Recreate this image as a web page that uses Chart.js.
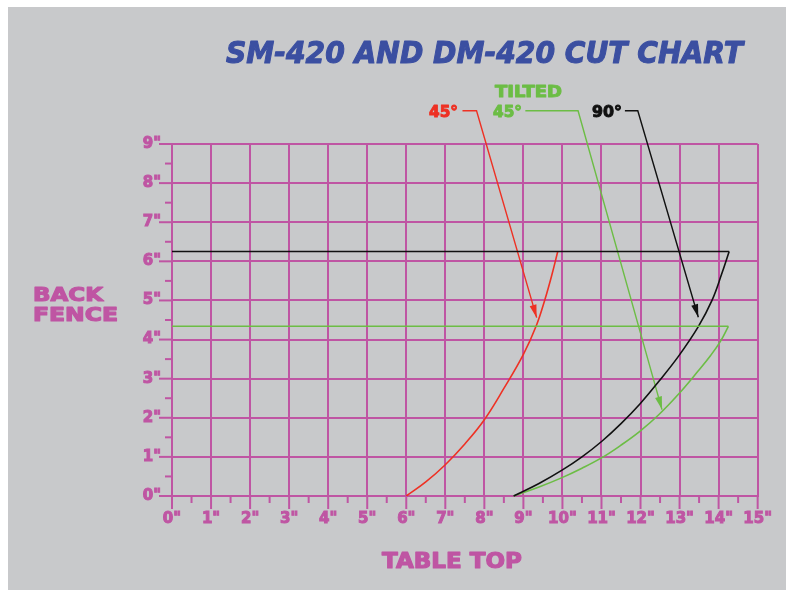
<!DOCTYPE html>
<html>
<head>
<meta charset="utf-8">
<script src="https://cdn.jsdelivr.net/npm/chart.js@4.4.1/dist/chart.umd.min.js"></script>
<style>
  html, body { margin: 0; padding: 0; background: #fff; }
  #wrap { width: 786px; height: 590px; }
</style>
</head>
<body>
<div id="wrap"><canvas id="cutChart" width="786" height="590"></canvas></div>
<script>
// valores (pulgadas)
const red45X = [6, 6.5, 7, 7.5, 8, 8.5, 9.0, 9.34, 9.55, 9.72, 9.88];
const red45Y = [0, 0.36, 0.8, 1.33, 1.95, 2.75, 3.62, 4.38, 5.02, 5.62, 6.25];

const black90X = [8.75, 9.4, 9.99, 10.5, 11.01, 11.5, 11.99, 12.46, 12.97, 13.48, 13.83, 14.08, 14.27];
const black90Y = [0, 0.32, 0.66, 1.0, 1.4, 1.85, 2.36, 2.92, 3.57, 4.33, 5.0, 5.68, 6.25];

const tilted45X = [8.75, 9.4, 9.99, 10.5, 11.01, 11.5, 11.99, 12.46, 12.97, 13.48, 13.8, 14.05, 14.25];
const tilted45Y = [0, 0.23, 0.47, 0.71, 0.98, 1.3, 1.66, 2.07, 2.6, 3.2, 3.6, 3.96, 4.34];

const blackFenceX = [0, 14.27];
const blackFenceY = [6.25, 6.25];
const greenFenceX = [0, 14.25];
const greenFenceY = [4.34, 4.34];

// líneas de las etiquetas (flechas)
const redLeaderX = [7.44, 7.8, 9.34];
const redLeaderY = [9.85, 9.85, 4.56];
const greenLeaderX = [9.05, 10.4, 12.55];
const greenLeaderY = [9.85, 9.85, 2.21];
const blackLeaderX = [11.6, 11.93, 13.48];
const blackLeaderY = [9.85, 9.85, 4.57];

const xMax = 15;
const yMax = 9;

const MAGENTA = '#bf55a3';
const GRAY = '#c8c9cb';
const RED = '#ee3124';
const GREEN = '#6cbd45';
const BLACK = '#111111';
const BLUE = '#3b4fa1';

function pts(xs, ys) {
  return xs.map((x, i) => ({ x: x, y: ys[i] }));
}

function serie(xs, ys, color, extra) {
  return Object.assign({
    data: pts(xs, ys),
    showLine: true,
    borderColor: color,
    borderWidth: 1.6,
    pointRadius: 0,
    fill: false,
    clip: false,
    tension: 0
  }, extra || {});
}

// texto estirado al ancho del original
function fitText(ctx, txt, x, y, font, color, width, stroke) {
  ctx.save();
  ctx.font = font;
  ctx.fillStyle = color;
  ctx.strokeStyle = color;
  ctx.lineWidth = stroke || 1;
  ctx.lineJoin = 'round';
  ctx.textBaseline = 'alphabetic';
  ctx.textAlign = 'left';
  const w = ctx.measureText(txt).width;
  ctx.translate(x, y);
  ctx.scale(width / w, 1);
  ctx.fillText(txt, 0, 0);
  ctx.strokeText(txt, 0, 0);
  ctx.restore();
}

const fondo = {
  id: 'fondo',
  beforeDraw(chart) {
    const ctx = chart.ctx;
    ctx.save();
    ctx.fillStyle = '#ffffff';
    ctx.fillRect(0, 0, chart.width, chart.height);
    ctx.fillStyle = GRAY;
    ctx.fillRect(8, 7, chart.width - 8, chart.height - 7);
    ctx.restore();
  }
};

const marcas = {
  id: 'marcas',
  afterDraw(chart) {
    const ctx = chart.ctx;
    const xs = chart.scales.x;
    const ys = chart.scales.y;
    const area = chart.chartArea;
    ctx.save();
    ctx.strokeStyle = MAGENTA;
    ctx.lineWidth = 2;
    xs.ticks.forEach(t => {
      const px = xs.getPixelForValue(t.value);
      const len = Number.isInteger(t.value) ? 13 : 7;
      ctx.beginPath();
      ctx.moveTo(px, area.bottom);
      ctx.lineTo(px, area.bottom + len);
      ctx.stroke();
    });
    ys.ticks.forEach(t => {
      const py = ys.getPixelForValue(t.value);
      const len = Number.isInteger(t.value) ? 13 : 7;
      ctx.beginPath();
      ctx.moveTo(area.left, py);
      ctx.lineTo(area.left - len, py);
      ctx.stroke();
    });

    // flechas al final de cada línea guía
    [[5, RED], [6, GREEN], [7, BLACK]].forEach(([idx, color]) => {
      const meta = chart.getDatasetMeta(idx);
      const n = meta.data.length;
      const a = meta.data[n - 2], b = meta.data[n - 1];
      const ang = Math.atan2(b.y - a.y, b.x - a.x);
      const L = 13, W = 3.5;
      ctx.fillStyle = color;
      ctx.beginPath();
      ctx.moveTo(b.x, b.y);
      ctx.lineTo(b.x - L * Math.cos(ang) + W * Math.sin(ang), b.y - L * Math.sin(ang) - W * Math.cos(ang));
      ctx.lineTo(b.x - L * Math.cos(ang) - W * Math.sin(ang), b.y - L * Math.sin(ang) + W * Math.cos(ang));
      ctx.closePath();
      ctx.fill();
    });

    // textos
    fitText(ctx, 'SM-420 AND DM-420 CUT CHART', 226, 63, 'italic bold 30px "DejaVu Sans"', BLUE, 517, 1.1);
    fitText(ctx, 'BACK', 33, 301, 'bold 19px "DejaVu Sans"', MAGENTA, 70, 1.2);
    fitText(ctx, 'FENCE', 33, 321, 'bold 19px "DejaVu Sans"', MAGENTA, 85, 1.2);
    fitText(ctx, 'TABLE TOP', 382, 568, 'bold 22px "DejaVu Sans"', MAGENTA, 140, 1.2);
    fitText(ctx, '45°', 429, 117, 'bold 16px "DejaVu Sans"', RED, 29, 1);
    fitText(ctx, 'TILTED', 495, 97, 'bold 16px "DejaVu Sans"', GREEN, 67, 1);
    fitText(ctx, '45°', 493, 117, 'bold 16px "DejaVu Sans"', GREEN, 29, 1);
    fitText(ctx, '90°', 592, 117, 'bold 16px "DejaVu Sans"', BLACK, 30, 1);
    ctx.restore();
  }
};

const tickFont = { family: 'DejaVu Sans', size: 15, weight: 'bold' };

new Chart(document.getElementById('cutChart'), {
  type: 'scatter',
  data: {
    datasets: [
      serie(blackFenceX, blackFenceY, BLACK),
      serie(greenFenceX, greenFenceY, GREEN),
      serie(red45X, red45Y, RED, { tension: 0.4 }),
      serie(black90X, black90Y, BLACK, { tension: 0.4 }),
      serie(tilted45X, tilted45Y, GREEN, { tension: 0.4 }),
      serie(redLeaderX, redLeaderY, RED, { borderWidth: 1.4 }),
      serie(greenLeaderX, greenLeaderY, GREEN, { borderWidth: 1.4 }),
      serie(blackLeaderX, blackLeaderY, BLACK, { borderWidth: 1.4 })
    ]
  },
  options: {
    responsive: false,
    animation: false,
    devicePixelRatio: 1,
    layout: { padding: { top: 144, right: 26, left: 0, bottom: 0 } },
    plugins: {
      legend: { display: false },
      tooltip: { enabled: false },
      title: { display: false }
    },
    scales: {
      x: {
        type: 'linear',
        min: 0,
        max: xMax,
        afterFit(scale) { scale.height = 94; },
        border: { display: true, color: MAGENTA, width: 2 },
        grid: {
          drawTicks: false,
          lineWidth: 2,
          color: c => (c.tick && Number.isInteger(c.tick.value)) ? MAGENTA : 'transparent'
        },
        ticks: {
          stepSize: 0.5,
          autoSkip: false,
          maxRotation: 0,
          padding: 14,
          color: MAGENTA,
          textStrokeColor: MAGENTA,
          textStrokeWidth: 1,
          font: tickFont,
          callback: v => Number.isInteger(v) ? v + '"' : ''
        }
      },
      y: {
        type: 'linear',
        min: 0,
        max: yMax,
        afterFit(scale) { scale.width = 172; },
        border: { display: true, color: MAGENTA, width: 2 },
        grid: {
          drawTicks: false,
          lineWidth: 2,
          color: c => (c.tick && Number.isInteger(c.tick.value)) ? MAGENTA : 'transparent'
        },
        ticks: {
          stepSize: 0.5,
          autoSkip: false,
          padding: 11,
          color: MAGENTA,
          textStrokeColor: MAGENTA,
          textStrokeWidth: 1,
          font: tickFont,
          callback: v => Number.isInteger(v) ? v + '"' : ''
        }
      }
    }
  },
  plugins: [fondo, marcas]
});
</script>
</body>
</html>
